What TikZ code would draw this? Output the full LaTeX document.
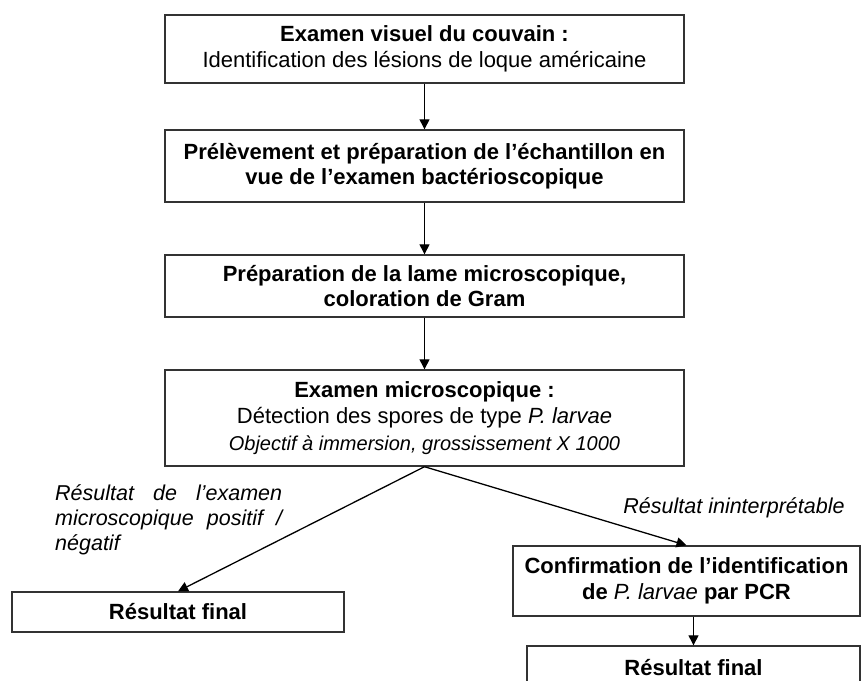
\documentclass[tikz,border=0pt]{standalone}
\usepackage{fontspec}
\setmainfont{Liberation Sans}
\usetikzlibrary{arrows.meta, positioning}

\begin{document}
\begin{tikzpicture}[x=1pt, y=-1pt,
    font=\fontsize{22}{25.5}\selectfont,
    box/.style={draw=black!80, line width=1.4pt, align=center, inner sep=2pt},
    arr/.style={line width=1.3pt, -{Triangle[length=10pt, width=10pt]}},
    note/.style={font=\fontsize{21.5}{25}\selectfont\itshape}]

    % Frame
    \useasboundingbox (0,0) rectangle (861,680);
    \clip (0,0) rectangle (861,680);

    % Main steps
    \node[box, minimum width=519pt, minimum height=68pt] (visuel) at (424.5,49)
        {\textbf{Examen visuel du couvain :}\\Identification des lésions de loque américaine};
    \node[box, minimum width=519pt, minimum height=72pt] (prelev) at (424.5,166)
        {\textbf{Prélèvement et préparation de l’échantillon en}\\\textbf{vue de l’examen bactérioscopique}};
    \node[box, minimum width=519pt, minimum height=62pt] (lame) at (424.5,286)
        {\textbf{Préparation de la lame microscopique,}\\\textbf{coloration de Gram}};
    \node[box, minimum width=519pt, minimum height=96pt] (micro) at (424.5,418)
        {\textbf{Examen microscopique :}\\[1pt]Détection des spores de type \textit{P. larvae}\\[1pt]
         {\fontsize{20}{24}\selectfont\itshape Objectif à immersion, grossissement X 1000}};

    % Outcomes
    \node[box, minimum width=332pt, minimum height=40pt] (final1) at (178,612)
        {\textbf{Résultat final}};
    \node[box, minimum width=347pt, minimum height=70pt] (pcr) at (686.5,581)
        {\textbf{Confirmation de l’identification}\\\textbf{de} \textit{P. larvae} \textbf{par PCR}};
    \node[box, minimum width=333pt, minimum height=44pt] (final2) at (693.5,668)
        {\textbf{Résultat final}};

    % Branch labels
    \node[note, text width=227pt, align=justify, anchor=north west, inner sep=0pt] (lblpos) at (55,484)
        {Résultat de l’examen\linebreak microscopique positif /\linebreak négatif};
    \node[note] (lblpcr) at (734,508) {Résultat ininterprétable};

    % Connectors
    \draw[arr] (visuel) -- (prelev);
    \draw[arr] (prelev) -- (lame);
    \draw[arr] (lame) -- (micro);
    \draw[arr] (micro.south) -- (final1.north);
    \draw[arr] (micro.south) -- (pcr.north);
    \draw[arr] (pcr.south -| final2.north) -- (final2.north);

\end{tikzpicture}
\end{document}
